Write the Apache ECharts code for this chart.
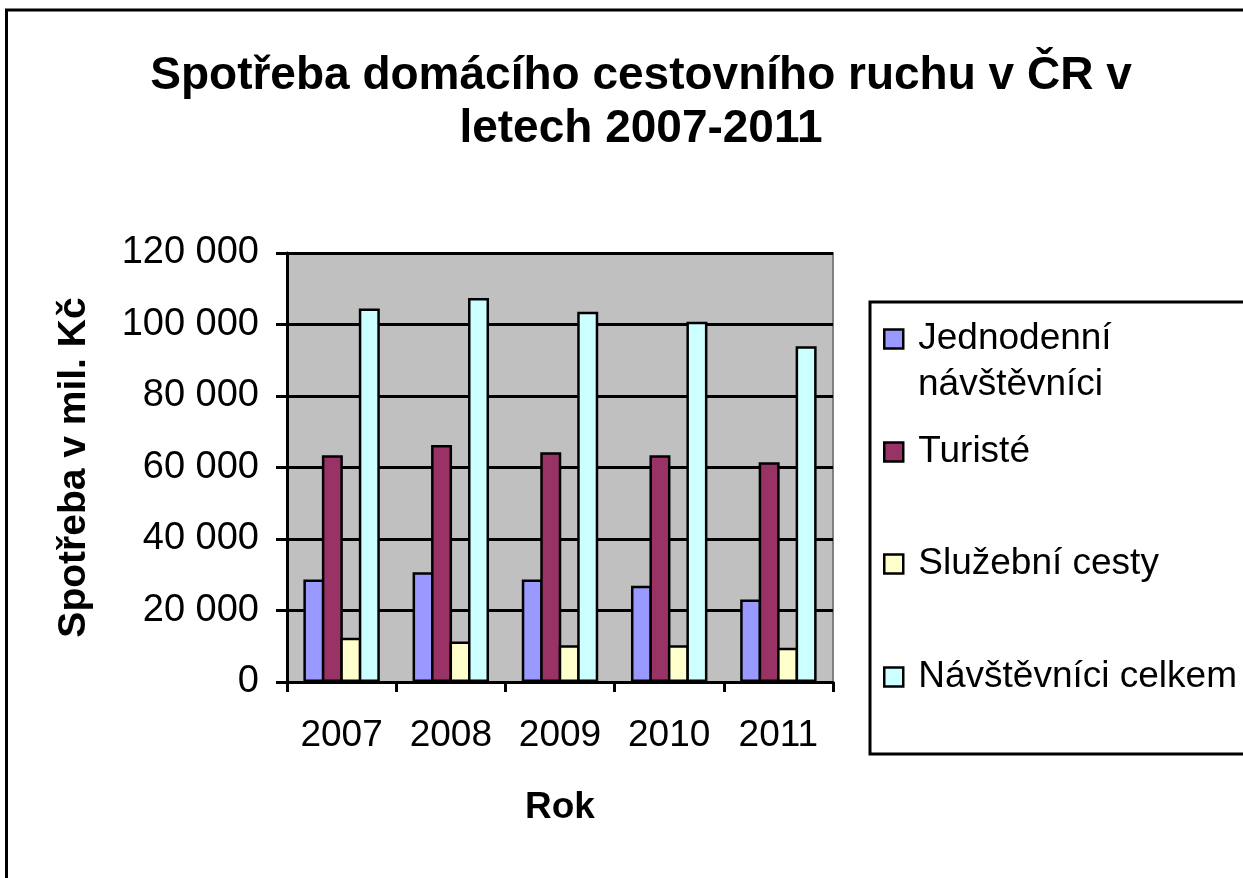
<!DOCTYPE html>
<html>
<head>
<meta charset="utf-8">
<script src="https://cdn.jsdelivr.net/npm/echarts@6/dist/echarts.min.js"></script>
<style>html,body{margin:0;padding:0;background:#fff}#c{width:1243px;height:878px}</style>
</head>
<body>
<div id="c"></div>
<script>
const years = ['2007', '2008', '2009', '2010', '2011'];
const jednodenni = [28700, 30700, 28700, 26900, 23100];
const turiste = [63400, 66300, 64300, 63400, 61500];
const sluzebni = [12400, 11300, 10300, 10300, 9600];
const celkem = [104500, 107400, 103600, 100800, 93900];
const seriesNames = ['Jednodenní návštěvníci', 'Turisté', 'Služební cesty', 'Návštěvníci celkem'];
const colors = ['#9999FF', '#993366', '#FFFFCC', '#CCFFFF'];
const yTicks = { min: 0, max: 120000, interval: 20000 };

const FONT = "'Liberation Sans', Arial, sans-serif";
const chart = echarts.init(document.getElementById('c'), null, { renderer: 'canvas' });

function fmt(v) {
  return String(v).replace(/\B(?=(\d{3})+(?!\d))/g, ' ');
}

const legendCenters = [339, 452, 564, 677];
const legends = seriesNames.map((n, i) => ({
  data: [{ name: n, icon: 'rect' }],
  left: 883,
  top: legendCenters[i] - 19,
  padding: 0,
  itemWidth: 19,
  itemHeight: 19,
  selectedMode: false,
  formatter: i === 0 ? () => 'Jednodenní' : undefined,
  textStyle: { fontFamily: FONT, fontSize: 37, color: '#000', lineHeight: 38, padding: [0, 0, 0, 10] },
  itemStyle: { borderColor: '#000', borderWidth: 2.5 }
}));

const seriesData = [jednodenni, turiste, sluzebni, celkem];

chart.setOption({
  animation: false,
  backgroundColor: '#fff',
  title: {
    text: 'Spotřeba domácího cestovního ruchu v ČR v\nletech 2007-2011',
    left: 636,
    textAlign: 'center',
    top: 45,
    textStyle: { fontFamily: FONT, fontSize: 46, fontWeight: 'bold', color: '#000', lineHeight: 53 }
  },
  legend: legends,
  grid: { left: 287, right: 410, top: 253, bottom: 196, show: true, backgroundColor: '#C0C0C0', borderColor: '#808080', borderWidth: 2 },
  xAxis: {
    type: 'category',
    data: years,
    name: 'Rok',
    nameLocation: 'middle',
    nameGap: 107,
    nameTextStyle: { fontFamily: FONT, fontSize: 37, fontWeight: 'bold', color: '#000' },
    axisLine: { lineStyle: { color: '#000', width: 3 } },
    axisTick: { show: true, length: 10, lineStyle: { color: '#000', width: 3 } },
    axisLabel: { fontFamily: FONT, fontSize: 37, color: '#000', margin: 35 }
  },
  yAxis: {
    type: 'value',
    min: yTicks.min,
    max: yTicks.max,
    interval: yTicks.interval,
    name: 'Spotřeba v mil. Kč',
    nameLocation: 'middle',
    nameRotate: 90,
    nameGap: 193,
    nameTextStyle: { fontFamily: FONT, fontSize: 39, fontWeight: 'bold', color: '#000' },
    axisLine: { show: true, lineStyle: { color: '#000', width: 3 } },
    axisTick: { show: true, length: 11, lineStyle: { color: '#000', width: 3 } },
    axisLabel: { fontFamily: FONT, fontSize: 38, color: '#000', margin: 28, formatter: fmt },
    splitLine: { show: true, lineStyle: { color: '#000', width: 3 } }
  },
  series: seriesNames.map((n, i) => ({
    name: n,
    type: 'bar',
    data: seriesData[i],
    barGap: '-12%',
    barWidth: 21,
    itemStyle: { color: colors[i], borderColor: '#000', borderWidth: 2.5 }
  })),
  graphic: [
    { type: 'rect', shape: { x: 6.5, y: 10, width: 1400, height: 1000 }, style: { fill: 'none', stroke: '#000', lineWidth: 3 }, z: 100, silent: true },
    { type: 'rect', shape: { x: 870, y: 302, width: 500, height: 452 }, style: { fill: 'none', stroke: '#000', lineWidth: 3 }, z: 100, silent: true },
    { type: 'text', left: 918, top: 385 - 19, style: { text: 'návštěvníci', font: "37px 'Liberation Sans', Arial, sans-serif", fill: '#000' }, silent: true }
  ]
});
</script>
</body>
</html>
